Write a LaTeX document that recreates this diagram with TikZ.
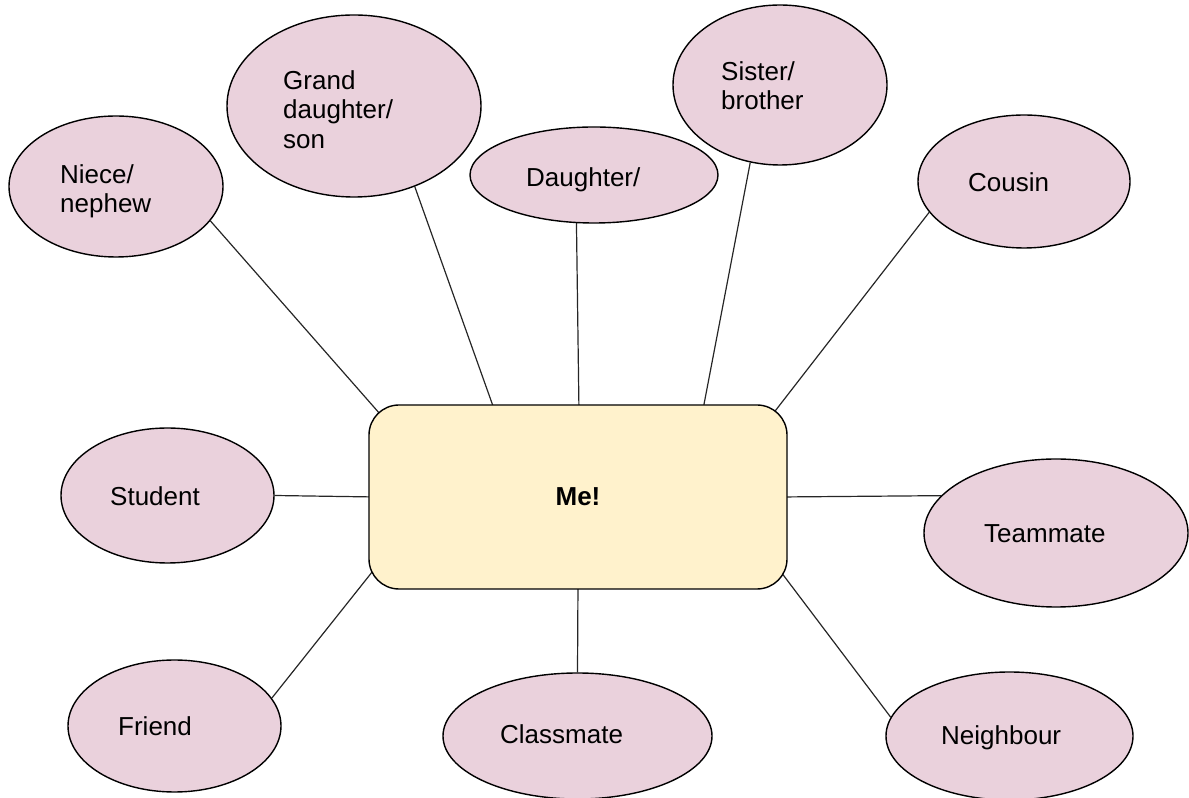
\documentclass[tikz,border=0pt]{standalone}
\usepackage{fontspec}
\setmainfont{Liberation Sans}
\usetikzlibrary{shapes.geometric,backgrounds}
\definecolor{bubblefill}{HTML}{EAD1DC}
\definecolor{mefill}{HTML}{FFF2CC}
\begin{document}
\begin{tikzpicture}[x=1pt,y=1pt,
  bubble/.style={ellipse, draw=black, line width=1.4pt, fill=bubblefill, inner sep=0pt},
  lbl/.style={inner sep=0pt, font=\fontsize{26}{29.5}\selectfont, align=left},
  link/.style={draw=black!85, line width=1.2pt}]
\useasboundingbox (0,0) rectangle (1189,798);

% central box
\node[draw=black, line width=1.4pt, fill=mefill, rounded corners=30pt,
      minimum width=418pt, minimum height=184pt, inner sep=0pt,
      font=\bfseries\fontsize{26}{30}\selectfont] (me) at (578,301) {Me!};

% bubbles
\node[bubble, minimum width=214pt, minimum height=141pt] (niece) at (116,611.5) {};
\node[bubble, minimum width=254pt, minimum height=182pt] (grand) at (354,692) {};
\node[bubble, minimum width=248pt, minimum height=96pt] (daughter) at (594,623) {};
\node[bubble, minimum width=214pt, minimum height=160pt] (sister) at (780,713) {};
\node[bubble, minimum width=212pt, minimum height=133pt] (cousin) at (1024,616.5) {};
\node[bubble, minimum width=213pt, minimum height=135pt] (student) at (167.5,302.5) {};
\node[bubble, minimum width=264pt, minimum height=148pt] (teammate) at (1056,265) {};
\node[bubble, minimum width=213pt, minimum height=132pt] (friend) at (174.5,72) {};
\node[bubble, minimum width=269pt, minimum height=126pt] (classmate) at (577.5,62) {};
\node[bubble, minimum width=247pt, minimum height=128pt] (neighbour) at (1009.5,62) {};

% labels
\node[lbl, anchor=north west] (tniece) at (60,633.6) {Niece/\\nephew};
\node[lbl, anchor=north west] (tgrand) at (283,727.6) {Grand\\daughter/\\son};
\node[lbl, anchor=base west] (tdaughter) at (526,611) {Daughter/};
\node[lbl, anchor=north west] (tsister) at (721,736.6) {Sister/\\brother};
\node[lbl, anchor=base west] (tcousin) at (968,606) {Cousin};
\node[lbl, anchor=base west] (tstudent) at (110,292) {Student};
\node[lbl, anchor=base west] (tteammate) at (984,255) {Teammate};
\node[lbl, anchor=base west] (tfriend) at (118,62) {Friend};
\node[lbl, anchor=base west] (tclassmate) at (500,54) {Classmate};
\node[lbl, anchor=base west] (tneighbour) at (941,53) {Neighbour};

% connectors
\begin{scope}[on background layer]
\draw[link] (niece.-20.3) -- ([shift={(19,-18)}]me.north west);
\draw[link] (grand.-53.3) -- ([shift={(128,-11)}]me.north west);
\draw[link] (daughter.-110.6) -- ([shift={(1,-8)}]me.north);
\draw[link] (sister.-111.7) -- ([shift={(-86,-12)}]me.north east);
\draw[link] (cousin.-162.9) -- ([shift={(-19,-15)}]me.north east);
\draw[link] (student.-0.5) -- ([shift={(8,0)}]me.west);
\draw[link] (teammate.162.5) -- ([shift={(-8,0)}]me.east);
\draw[link] (friend.16) -- ([shift={(12,28)}]me.south west);
\draw[link] (classmate.90) -- ([shift={(0,8)}]me.south);
\draw[link] (neighbour.171) -- ([shift={(-13,26)}]me.south east);
\end{scope}
\end{tikzpicture}
\end{document}
